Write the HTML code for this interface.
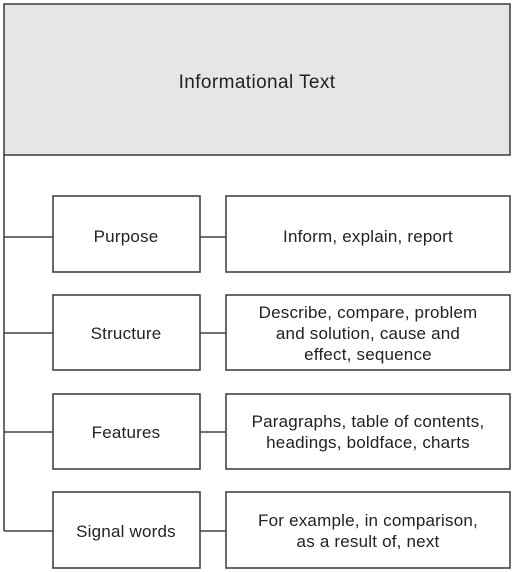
<!DOCTYPE html>
<html><head><style>body{margin:0;background:#fff}svg{display:block}text{font-family:"Liberation Sans",sans-serif;font-size:17px;letter-spacing:0.2px;fill:#222;text-anchor:middle}</style></head>
<body>
<svg width="515" height="572" viewBox="0 0 515 572">
<g stroke="#444" stroke-width="1.6" fill="none">
<rect x="4" y="4" width="506" height="151" fill="#e6e6e6"/>
<line x1="4" y1="155" x2="4" y2="531"/>
<rect x="53" y="196" width="147" height="76" fill="#fff"/>
<rect x="226" y="196" width="284" height="76" fill="#fff"/>
<rect x="53" y="295" width="147" height="75" fill="#fff"/>
<rect x="226" y="295" width="284" height="75" fill="#fff"/>
<rect x="53" y="394" width="147" height="75" fill="#fff"/>
<rect x="226" y="394" width="284" height="75" fill="#fff"/>
<rect x="53" y="492" width="147" height="76" fill="#fff"/>
<rect x="226" y="492" width="284" height="76" fill="#fff"/>
<path d="M4 237H53M200 237H226M4 333H53M200 333H226M4 432H53M200 432H226M4 531H53M200 531H226"/>
</g>
<text x="257" y="88" style="font-size:19px;letter-spacing:0.4px">Informational Text</text>
<text x="126" y="242">Purpose</text>
<text x="368" y="242">Inform, explain, report</text>
<text x="126" y="339">Structure</text>
<text x="368" y="318">Describe, compare, problem</text>
<text x="368" y="339">and solution, cause and</text>
<text x="368" y="360">effect, sequence</text>
<text x="126" y="438">Features</text>
<text x="368" y="427">Paragraphs, table of contents,</text>
<text x="368" y="448">headings, boldface, charts</text>
<text x="126" y="537">Signal words</text>
<text x="368" y="526">For example, in comparison,</text>
<text x="368" y="547">as a result of, next</text>
</svg>
</body></html>
